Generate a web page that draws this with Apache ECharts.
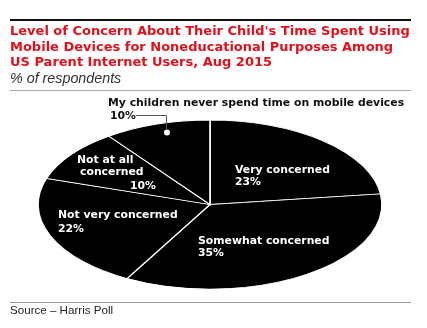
<!DOCTYPE html>
<html><head><meta charset="utf-8">
<script src="https://cdn.jsdelivr.net/npm/echarts@6/dist/echarts.min.js"></script>
<style>html,body{margin:0;padding:0;background:#fff}#c{width:427px;height:328px}</style>
</head><body><div id="c"></div>
<script>
// ---- data ----
const categories = ['Very concerned', 'Somewhat concerned', 'Not very concerned', 'Not at all\nconcerned', 'My children never spend time on mobile devices'];
const values = [23, 35, 22, 10, 10];
const titleText = "Level of Concern About Their Child's Time Spent Using\nMobile Devices for Noneducational Purposes Among\nUS Parent Internet Users, Aug 2015";
const subtitleText = '% of respondents';
const sourceText = 'Source \u2013 Harris Poll';

// ---- layout ----
const CX = 210, CY = 204.5, RX = 172, RY = 84.5;
const labelLayout = [
  {lines: [[235, 170], [235, 182.5]], fill: '#fff'},
  {lines: [[198, 241], [198, 253.5]], fill: '#fff'},
  {lines: [[58, 215.5], [58, 229]], fill: '#fff'},
  {lines: [[77, 160], [80, 172.5], [130, 186]], fill: '#fff'},
  {lines: [[108, 103], [110, 116]], fill: '#111'}
];
const labelFont = 'bold 10.85px "DejaVu Sans", sans-serif';

const total = values.reduce((a, b) => a + b, 0);

function renderItem(params, api) {
  const i = params.dataIndex;
  let start = 0;
  for (let j = 0; j < i; j++) start += values[j];
  const v = api.value(0);
  const a0 = start / total * Math.PI * 2 - Math.PI / 2;
  const a1 = (start + v) / total * Math.PI * 2 - Math.PI / 2;
  const children = [{
    type: 'sector',
    shape: {cx: CX, cy: CY, r0: 0, r: RX, startAngle: a0, endAngle: a1, clockwise: true},
    originX: CX, originY: CY, scaleY: RY / RX,
    style: {fill: '#000', stroke: '#fff', lineWidth: 1.6, strokeNoScale: true}
  }];
  const lay = labelLayout[i];
  const texts = categories[i].split('\n').concat([v + '%']);
  texts.forEach((t, k) => {
    const p = lay.lines[k];
    children.push({
      type: 'text', z2: 10,
      style: {text: t, x: p[0], y: p[1], fill: lay.fill, font: labelFont, verticalAlign: 'middle', align: 'left'}
    });
  });
  return {type: 'group', children: children};
}

const chart = echarts.init(document.getElementById('c'), null, {renderer: 'canvas'});
chart.setOption({
  backgroundColor: '#fff',
  animation: false,
  title: {
    text: titleText,
    subtext: subtitleText,
    left: 10, top: 24, padding: 0, itemGap: 2,
    textStyle: {color: '#e3101c', fontFamily: '"DejaVu Sans", sans-serif', fontWeight: 'bold', fontSize: 13, lineHeight: 15.5},
    subtextStyle: {color: '#333', fontFamily: '"Liberation Sans", Arial, sans-serif', fontStyle: 'italic', fontSize: 14.3, lineHeight: 14}
  },
  graphic: [
    {type: 'line', shape: {x1: 10, y1: 20, x2: 411, y2: 20}, style: {stroke: '#111', lineWidth: 2}},
    {type: 'line', shape: {x1: 10, y1: 90.5, x2: 411, y2: 90.5}, style: {stroke: '#aaa', lineWidth: 1}},
    {type: 'line', shape: {x1: 10, y1: 302.5, x2: 411, y2: 302.5}, style: {stroke: '#999', lineWidth: 1}},
    {type: 'text', style: {text: sourceText, x: 10, y: 311, verticalAlign: 'middle', fill: '#222', font: '11.6px "Liberation Sans", Arial, sans-serif'}},
    {type: 'polyline', z: 10, shape: {points: [[136, 115.5], [166.5, 115.5], [166.5, 129]]}, style: {stroke: '#555', lineWidth: 1, fill: null}},
    {type: 'circle', z: 10, shape: {cx: 167, cy: 132.5, r: 3}, style: {fill: '#fff'}}
  ],
  series: [{
    type: 'custom',
    coordinateSystem: 'none',
    renderItem: renderItem,
    data: values.map(v => [v])
  }]
});
</script></body></html>
